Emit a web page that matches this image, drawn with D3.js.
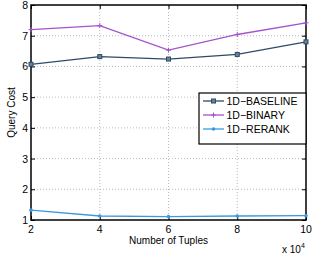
<!DOCTYPE html>
<html lang="en">
<head>
  <meta charset="UTF-8">
  <title>query cost</title>
  <script src="https://cdn.jsdelivr.net/npm/d3@7"></script>
  <style>
    body { margin: 0; background: #fff; }
    text { font-family: "Liberation Sans", Arial, sans-serif; }
  </style>
</head>
<body>
<svg></svg>
<script>
  const width = 312, height = 257
  const margin = {top: 5, right: 6, bottom: 37, left: 31}

  // x in units of 10^4 tuples
  const tuples = [2, 4, 6, 8, 10]
  const baseline = [6.07, 6.32, 6.24, 6.39, 6.80]
  const binary = [7.20, 7.33, 6.53, 7.04, 7.42]
  const rerank = [1.32, 1.13, 1.11, 1.13, 1.14]
  const xTicks = [2, 4, 6, 8, 10]
  const yTicks = [1, 2, 3, 4, 5, 6, 7, 8]

  const series = [
    {name: '1D\u2212BASELINE', values: baseline, color: '#2e4a66', mark: 'square'},
    {name: '1D\u2212BINARY', values: binary, color: '#a453cc', mark: 'plus'},
    {name: '1D\u2212RERANK', values: rerank, color: '#3a9ae0', mark: 'dot'}
  ]

  const svg = d3.select('svg')
      .attr('width', width)
      .attr('height', height)

  const x = d3.scaleLinear()
      .domain([2, 10])
      .range([margin.left, width - margin.right])

  const y = d3.scaleLinear()
      .domain([1, 8])
      .range([height - margin.bottom, margin.top])

  const x0 = x.range()[0], x1 = x.range()[1]
  const y0 = y.range()[0], y1 = y.range()[1]

  // grid
  svg.append('g')
      .selectAll('line')
      .data(xTicks.slice(1, -1))
      .join('line')
      .attr('x1', d => x(d)).attr('x2', d => x(d))
      .attr('y1', y0).attr('y2', y1)
      .attr('stroke', '#aaa')
      .attr('stroke-width', 0.8)
      .attr('stroke-dasharray', '1,2')

  svg.append('g')
      .selectAll('line')
      .data(yTicks.slice(1, -1))
      .join('line')
      .attr('y1', d => y(d)).attr('y2', d => y(d))
      .attr('x1', x0).attr('x2', x1)
      .attr('stroke', '#aaa')
      .attr('stroke-width', 0.8)
      .attr('stroke-dasharray', '1,2')

  // axes, ticks pointing inward like matlab
  const fontSize = 10.5
  svg.append('g')
      .attr('transform', `translate(0,${y0})`)
      .call(d3.axisTop(x).tickValues(xTicks).tickSize(4).tickFormat(''))
      .select('.domain').remove()
  svg.append('g')
      .attr('transform', `translate(0,${y1})`)
      .call(d3.axisBottom(x).tickValues(xTicks).tickSize(4).tickFormat(''))
      .select('.domain').remove()
  svg.append('g')
      .attr('transform', `translate(${x0},0)`)
      .call(d3.axisRight(y).tickValues(yTicks).tickSize(4).tickFormat(''))
      .select('.domain').remove()
  svg.append('g')
      .attr('transform', `translate(${x1},0)`)
      .call(d3.axisLeft(y).tickValues(yTicks).tickSize(4).tickFormat(''))
      .select('.domain').remove()

  svg.append('g')
      .selectAll('text')
      .data(xTicks)
      .join('text')
      .attr('x', d => x(d))
      .attr('y', y0 + 13)
      .attr('text-anchor', 'middle')
      .attr('font-size', fontSize)
      .text(d => d)

  svg.append('g')
      .selectAll('text')
      .data(yTicks)
      .join('text')
      .attr('x', x0 - 3)
      .attr('y', d => y(d) + 4)
      .attr('text-anchor', 'end')
      .attr('font-size', fontSize)
      .text(d => d)

  svg.append('rect')
      .attr('x', x0).attr('y', y1)
      .attr('width', x1 - x0).attr('height', y0 - y1)
      .attr('fill', 'none')
      .attr('stroke', '#000')
      .attr('stroke-width', 1.5)

  // lines
  const line = d3.line()
      .x((d, i) => x(tuples[i]))
      .y(d => y(d))

  function marker(g, s, cx, cy) {
    if (s.mark === 'square') {
      g.append('rect')
          .attr('x', cx - 2).attr('y', cy - 2)
          .attr('width', 4).attr('height', 4)
          .attr('fill', '#6a829c')
          .attr('stroke', s.color)
          .attr('stroke-width', 1)
    } else if (s.mark === 'plus') {
      g.append('path')
          .attr('d', `M${cx - 2.5},${cy}H${cx + 2.5}M${cx},${cy - 2.5}V${cy + 2.5}`)
          .attr('stroke', s.color)
          .attr('stroke-width', 1)
    } else {
      g.append('circle')
          .attr('cx', cx).attr('cy', cy).attr('r', 1.8)
          .attr('fill', s.color)
    }
  }

  series.forEach(s => {
    const g = svg.append('g')
    g.append('path')
        .attr('fill', 'none')
        .attr('stroke', s.color)
        .attr('stroke-width', 1.3)
        .attr('d', line(s.values))
    s.values.forEach((v, i) => marker(g, s, x(tuples[i]), y(v)))
  })

  // legend
  const lg = svg.append('g')
  lg.append('rect')
      .attr('x', 199).attr('y', 93)
      .attr('width', x1 - 199).attr('height', 51)
      .attr('fill', '#fff')
      .attr('stroke', '#000')
      .attr('stroke-width', 1.2)
  series.forEach((s, i) => {
    const ly = 101 + i * 14
    lg.append('line')
        .attr('x1', 203).attr('x2', 224)
        .attr('y1', ly).attr('y2', ly)
        .attr('stroke', s.color)
        .attr('stroke-width', 1.3)
    marker(lg, s, 213.5, ly)
    lg.append('text')
        .attr('x', 226.5)
        .attr('y', ly + 4)
        .attr('font-size', fontSize)
        .text(s.name)
  })

  // labels
  svg.append('text')
      .attr('x', (x0 + x1) / 2)
      .attr('y', 244)
      .attr('text-anchor', 'middle')
      .attr('font-size', 10)
      .text('Number of Tuples')

  svg.append('text')
      .attr('transform', `translate(15,${(y0 + y1) / 2}) rotate(-90)`)
      .attr('text-anchor', 'middle')
      .attr('font-size', 10)
      .text('Query Cost')

  const ex = svg.append('text')
      .attr('x', 282)
      .attr('y', 253)
      .attr('font-size', 10)
  ex.append('tspan').text('x 10')
  ex.append('tspan')
      .attr('font-size', 7)
      .attr('dy', -5)
      .text('4')
</script>
</body>
</html>
